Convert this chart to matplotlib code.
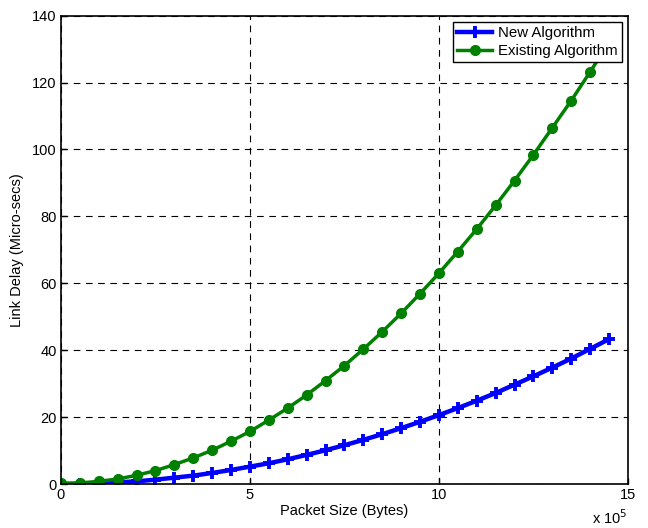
import matplotlib
matplotlib.use("Agg")
import matplotlib.pyplot as plt

plt.rcParams["font.family"] = ["Liberation Sans", "DejaVu Sans"]

# packet size in units of 1e5 bytes
packet_size = [0, 0.5, 1, 1.5, 2, 2.5, 3, 3.5, 4, 4.5, 5, 5.5, 6, 6.5, 7,
               7.5, 8, 8.5, 9, 9.5, 10, 10.5, 11, 11.5, 12, 12.5, 13, 13.5, 14, 14.5]
new_delay = [0.0, 0.05, 0.2, 0.5, 0.8, 1.3, 1.9, 2.5, 3.3, 4.2, 5.2, 6.2, 7.4,
             8.7, 10.1, 11.6, 13.2, 14.9, 16.7, 18.6, 20.6, 22.7, 24.9, 27.2,
             29.7, 32.2, 34.8, 37.5, 40.4, 43.3]
existing_delay = [0.2, 0.3, 0.8, 1.5, 2.6, 4.0, 5.8, 7.8, 10.1, 12.8, 15.7,
                  19.1, 22.7, 26.6, 30.9, 35.4, 40.3, 45.5, 51.0, 56.9, 63.0,
                  69.5, 76.2, 83.3, 90.7, 98.4, 106.5, 114.6, 123.2, 132.0]

fig = plt.figure(figsize=(6.48, 5.28), dpi=100)
ax = fig.add_axes([0.094, 0.0833, 0.875, 0.887])

ax.plot(packet_size, new_delay, color="#0000ff", lw=3.2, marker="+",
        ms=8, mew=2.8, label="New Algorithm")
ax.plot(packet_size, existing_delay, color="#008000", lw=2.5, marker="o",
        ms=7, label="Existing Algorithm")

ax.set_xlim(0, 15)
ax.set_ylim(0, 140)
ax.set_xticks([0, 5, 10, 15])
ax.set_yticks(range(0, 141, 20))
ax.tick_params(direction="in", labelsize=10.5, length=4, width=1, pad=3)
for s in ax.spines.values():
    s.set_linewidth(1.2)
ax.grid(True, color="black", linestyle=(0, (6, 5)), linewidth=0.8)

ax.set_xlabel("Packet Size (Bytes)", fontsize=10.5, labelpad=1)
ax.set_ylabel("Link Delay (Micro-secs)", fontsize=10.5, labelpad=6)
ax.text(1.0, -0.052, r"x 10$^5$", transform=ax.transAxes, ha="right",
        va="top", fontsize=10.5)

leg = ax.legend(loc="upper right", fontsize=10.8, fancybox=False,
                framealpha=1, edgecolor="black", borderaxespad=0.4,
                handlelength=2.3, borderpad=0.3, labelspacing=0.25,
                handletextpad=0.4)
leg.get_frame().set_linewidth(1)

fig.savefig("out.png", dpi=100)
